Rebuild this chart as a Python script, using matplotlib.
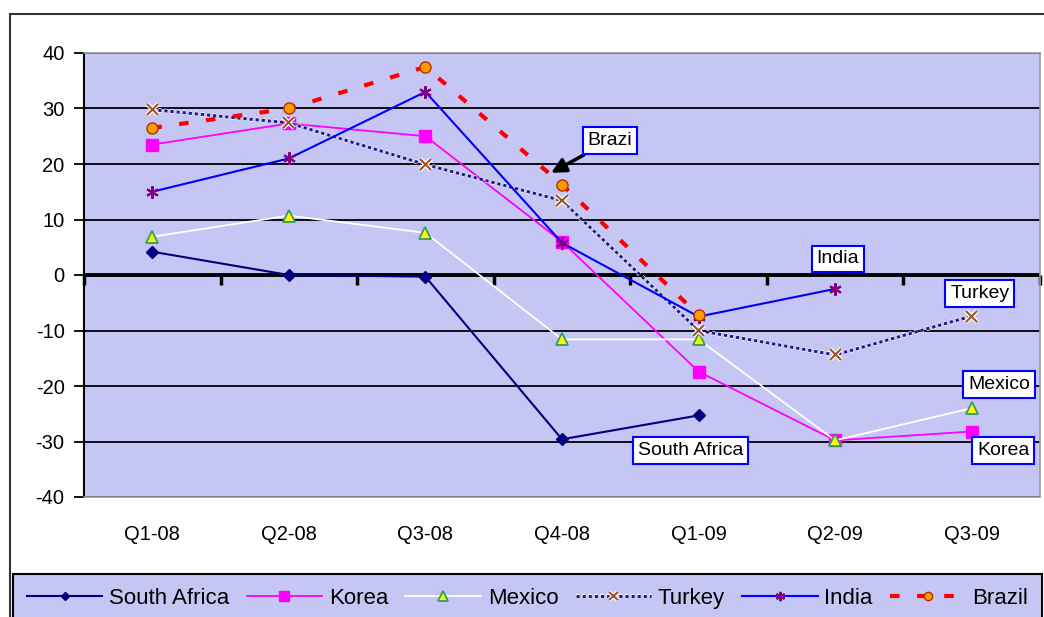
import numpy as np
import matplotlib
matplotlib.use("Agg")
import matplotlib.pyplot as plt
import matplotlib.patheffects as pe
from matplotlib.patches import Rectangle

plt.rcParams["font.family"] = ["Liberation Sans", "DejaVu Sans"]
plt.rcParams["axes.unicode_minus"] = False

quarters = ["Q1-08", "Q2-08", "Q3-08", "Q4-08", "Q1-09", "Q2-09", "Q3-09"]
south_africa = [4.2, 0.0, -0.3, -29.6, -25.3, np.nan, np.nan]
korea = [23.5, 27.3, 25.0, 6.0, -17.4, -29.8, -28.2]
mexico = [6.9, 10.7, 7.6, -11.6, -11.6, -29.8, -24.0]
turkey = [29.8, 27.4, 19.9, 13.4, -10.0, -14.4, -7.4]
india = [15.0, 21.0, 33.0, 5.8, -7.5, -2.5, np.nan]
brazil = [26.5, 30.0, 37.5, 16.3, -7.2, np.nan, np.nan]

yticks = [-40, -30, -20, -10, 0, 10, 20, 30, 40]

W, H = 1044, 617
fig = plt.figure(figsize=(W / 100, H / 100), dpi=100)
ax = fig.add_axes([84 / W, 1 - 497 / H, 956 / W, 444 / H])
ax.set_facecolor("#C6C6F4")

x = np.arange(len(quarters))

ax.plot(x, south_africa, color="#000080", lw=1.5, marker="D", ms=6,
        mfc="#000080", mec="#000080", label="South Africa")
ax.plot(x, korea, color="#FF00FF", lw=1.3, marker="s", ms=9,
        mfc="#FF00FF", mec="#FF00FF", label="Korea")
ax.plot(x, mexico, color="white", lw=1.3, marker="^", ms=9,
        mfc="#FFFF00", mec="#339966", mew=1.3, label="Mexico")
ax.plot(x, turkey, color="#1A1A80", lw=2.2, ls=(0, (1, 1)), marker="x", ms=8,
        mec="#A0522D", mew=1.5, label="Turkey",
        path_effects=[pe.Stroke(linewidth=3.2, foreground="white"), pe.Normal()])
ax.plot(x, india, color="#0000FF", lw=1.5, marker=(6, 2, 0), ms=9,
        mec="#800080", mew=1.5, label="India")
ax.plot(x, brazil, color="#FF0000", lw=3, dashes=(2.3, 4.2), marker="o", ms=8,
        mfc="#FF9900", mec="#B03000", mew=1, label="Brazil")

ax.set_xlim(-0.5, len(quarters) - 0.5)
ax.set_ylim(-40, 40)
ax.set_yticks(yticks)
ax.set_yticklabels([str(v) for v in yticks])
ax.grid(axis="y", color="black", lw=1.3)
ax.set_axisbelow(True)
ax.axhline(0, color="black", lw=2.8, zorder=1.5)

ax.set_xticks(x)
ax.set_xticklabels(quarters)
ax.tick_params(axis="x", length=0, pad=20, labelsize=14.5)
ax.tick_params(axis="y", length=7, width=1.3, pad=7, labelsize=14.5)

for side in ["top", "right", "bottom"]:
    ax.spines[side].set_color("#999999")
    ax.spines[side].set_linewidth(1.2)
ax.spines["left"].set_color("black")
ax.spines["left"].set_linewidth(1.5)

# category tick marks hanging below the zero line
sec = ax.secondary_xaxis(0.5)
sec.set_xticks(np.arange(len(quarters) + 1) - 0.5)
sec.set_xticklabels([])
sec.xaxis.set_ticks_position("bottom")
sec.tick_params(axis="x", which="both", bottom=True, top=False,
                length=7, width=2.5, direction="out")
for s in sec.spines.values():
    s.set_visible(False)

box = dict(boxstyle="square,pad=0.25", fc="white", ec="#0000FF", lw=1.5)
ax.annotate("Brazi", xy=(2.92, 18.4), xytext=(3.35, 24.2), fontsize=14,
            ha="center", va="center", bbox=box,
            arrowprops=dict(arrowstyle="-|>", color="black", lw=2.5,
                            mutation_scale=22, shrinkA=0, shrinkB=0))
ax.text(5.02, 2.9, "India", fontsize=14, ha="center", va="center", bbox=box)
ax.text(6.06, -3.3, "Turkey", fontsize=14, ha="center", va="center", bbox=box)
ax.text(6.2, -19.7, "Mexico", fontsize=14, ha="center", va="center", bbox=box)
ax.text(6.23, -31.6, "Korea", fontsize=14, ha="center", va="center", bbox=box)
ax.text(3.94, -31.6, "South Africa", fontsize=14, ha="center", va="center", bbox=box)

leg = fig.legend(loc="upper left", bbox_to_anchor=(13 / W, -0.05, 1029 / W, 0.05 + 1 - 574 / H),
                 mode="expand", ncol=6, fontsize=16, handlelength=3.4,
                 handletextpad=0.3, borderpad=0.62, borderaxespad=0,
                 markerscale=0.75, fancybox=False,
                 facecolor="#C6C6F4", edgecolor="black", framealpha=1)
leg.get_frame().set_linewidth(1.5)

fig.add_artist(Rectangle((10 / W, -0.1), 1.2, 1.1 - 14 / H, transform=fig.transFigure,
                         fill=False, ec="#333333", lw=1.5))

fig.savefig("out.png", dpi=100)
